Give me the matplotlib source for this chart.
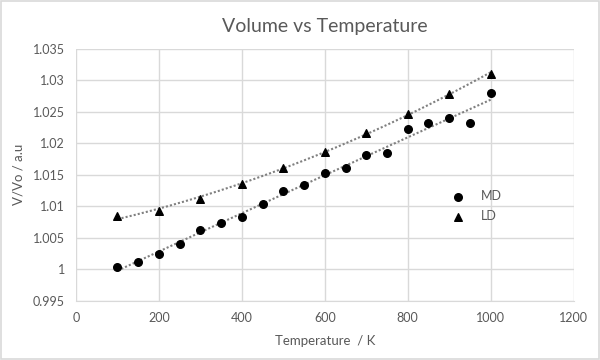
import numpy as np
import matplotlib
matplotlib.use("Agg")
import matplotlib.pyplot as plt
from matplotlib.patches import Rectangle

md_T = [100, 150, 200, 250, 300, 350, 400, 450, 500, 550, 600, 650, 700, 750, 800, 850, 900, 950, 1000]
md_V = [1.0004, 1.0011, 1.0024, 1.0040, 1.0062, 1.0073, 1.0083, 1.0104, 1.0124, 1.0134, 1.0153,
        1.0161, 1.0182, 1.0185, 1.0222, 1.0232, 1.0240, 1.0232, 1.0280]
ld_T = [100, 200, 300, 400, 500, 600, 700, 800, 900, 1000]
ld_V = [1.0084, 1.0093, 1.0112, 1.0135, 1.0161, 1.0187, 1.0216, 1.0247, 1.0279, 1.0310]

x_ticks = [0, 200, 400, 600, 800, 1000, 1200]
y_ticks = [0.995, 1.0, 1.005, 1.01, 1.015, 1.02, 1.025, 1.03, 1.035]
y_labels = ["0.995", "1", "1.005", "1.01", "1.015", "1.02", "1.025", "1.03", "1.035"]

plt.rcParams['font.family'] = ['Lato', 'DejaVu Sans']
grey = "#595959"
grid = "#d9d9d9"

fig = plt.figure(figsize=(6, 3.6), dpi=100)
fig.patches.append(Rectangle((0.0015, 0.0025), 0.997, 0.995, transform=fig.transFigure,
                             fill=False, edgecolor=grid, linewidth=1.2))
ax = fig.add_axes([0.1267, 0.165, 0.8293, 0.699])

for T, V in ((md_T, md_V), (ld_T, ld_V)):
    c = np.polyfit(T, V, 2)
    xs = np.linspace(min(T), max(T), 200)
    ax.plot(xs, np.polyval(c, xs), linestyle=(0, (1, 1)), color="#808080", linewidth=1.5, zorder=2)

ax.scatter(md_T, md_V, marker='o', s=30, color='black', label='MD', zorder=3)
ax.scatter(ld_T, ld_V, marker='^', s=30, color='black', label='LD', zorder=3)

ax.set_xlim(0, 1200)
ax.set_ylim(0.995, 1.035)
ax.set_xticks(x_ticks)
ax.set_yticks(y_ticks)
ax.set_yticklabels(y_labels)
ax.grid(True, color=grid, linewidth=1)
ax.set_axisbelow(True)
for s in ['top', 'right', 'left']:
    ax.spines[s].set_visible(False)
ax.spines['bottom'].set_color(grid)
ax.tick_params(length=0, colors=grey, labelsize=9, pad=8)

ax.set_title("Volume vs Temperature", color=grey, fontsize=14, pad=12)
ax.set_xlabel("Temperature  / K", color=grey, fontsize=9.5, labelpad=8)
ax.set_ylabel("V/Vo / a.u", color=grey, fontsize=9.5, labelpad=6)

leg = ax.legend(loc='center left', bbox_to_anchor=(0.72, 0.375), frameon=False,
                fontsize=9, labelcolor=grey, handletextpad=0.8, labelspacing=0.6)

fig.savefig("out.png", dpi=100)
